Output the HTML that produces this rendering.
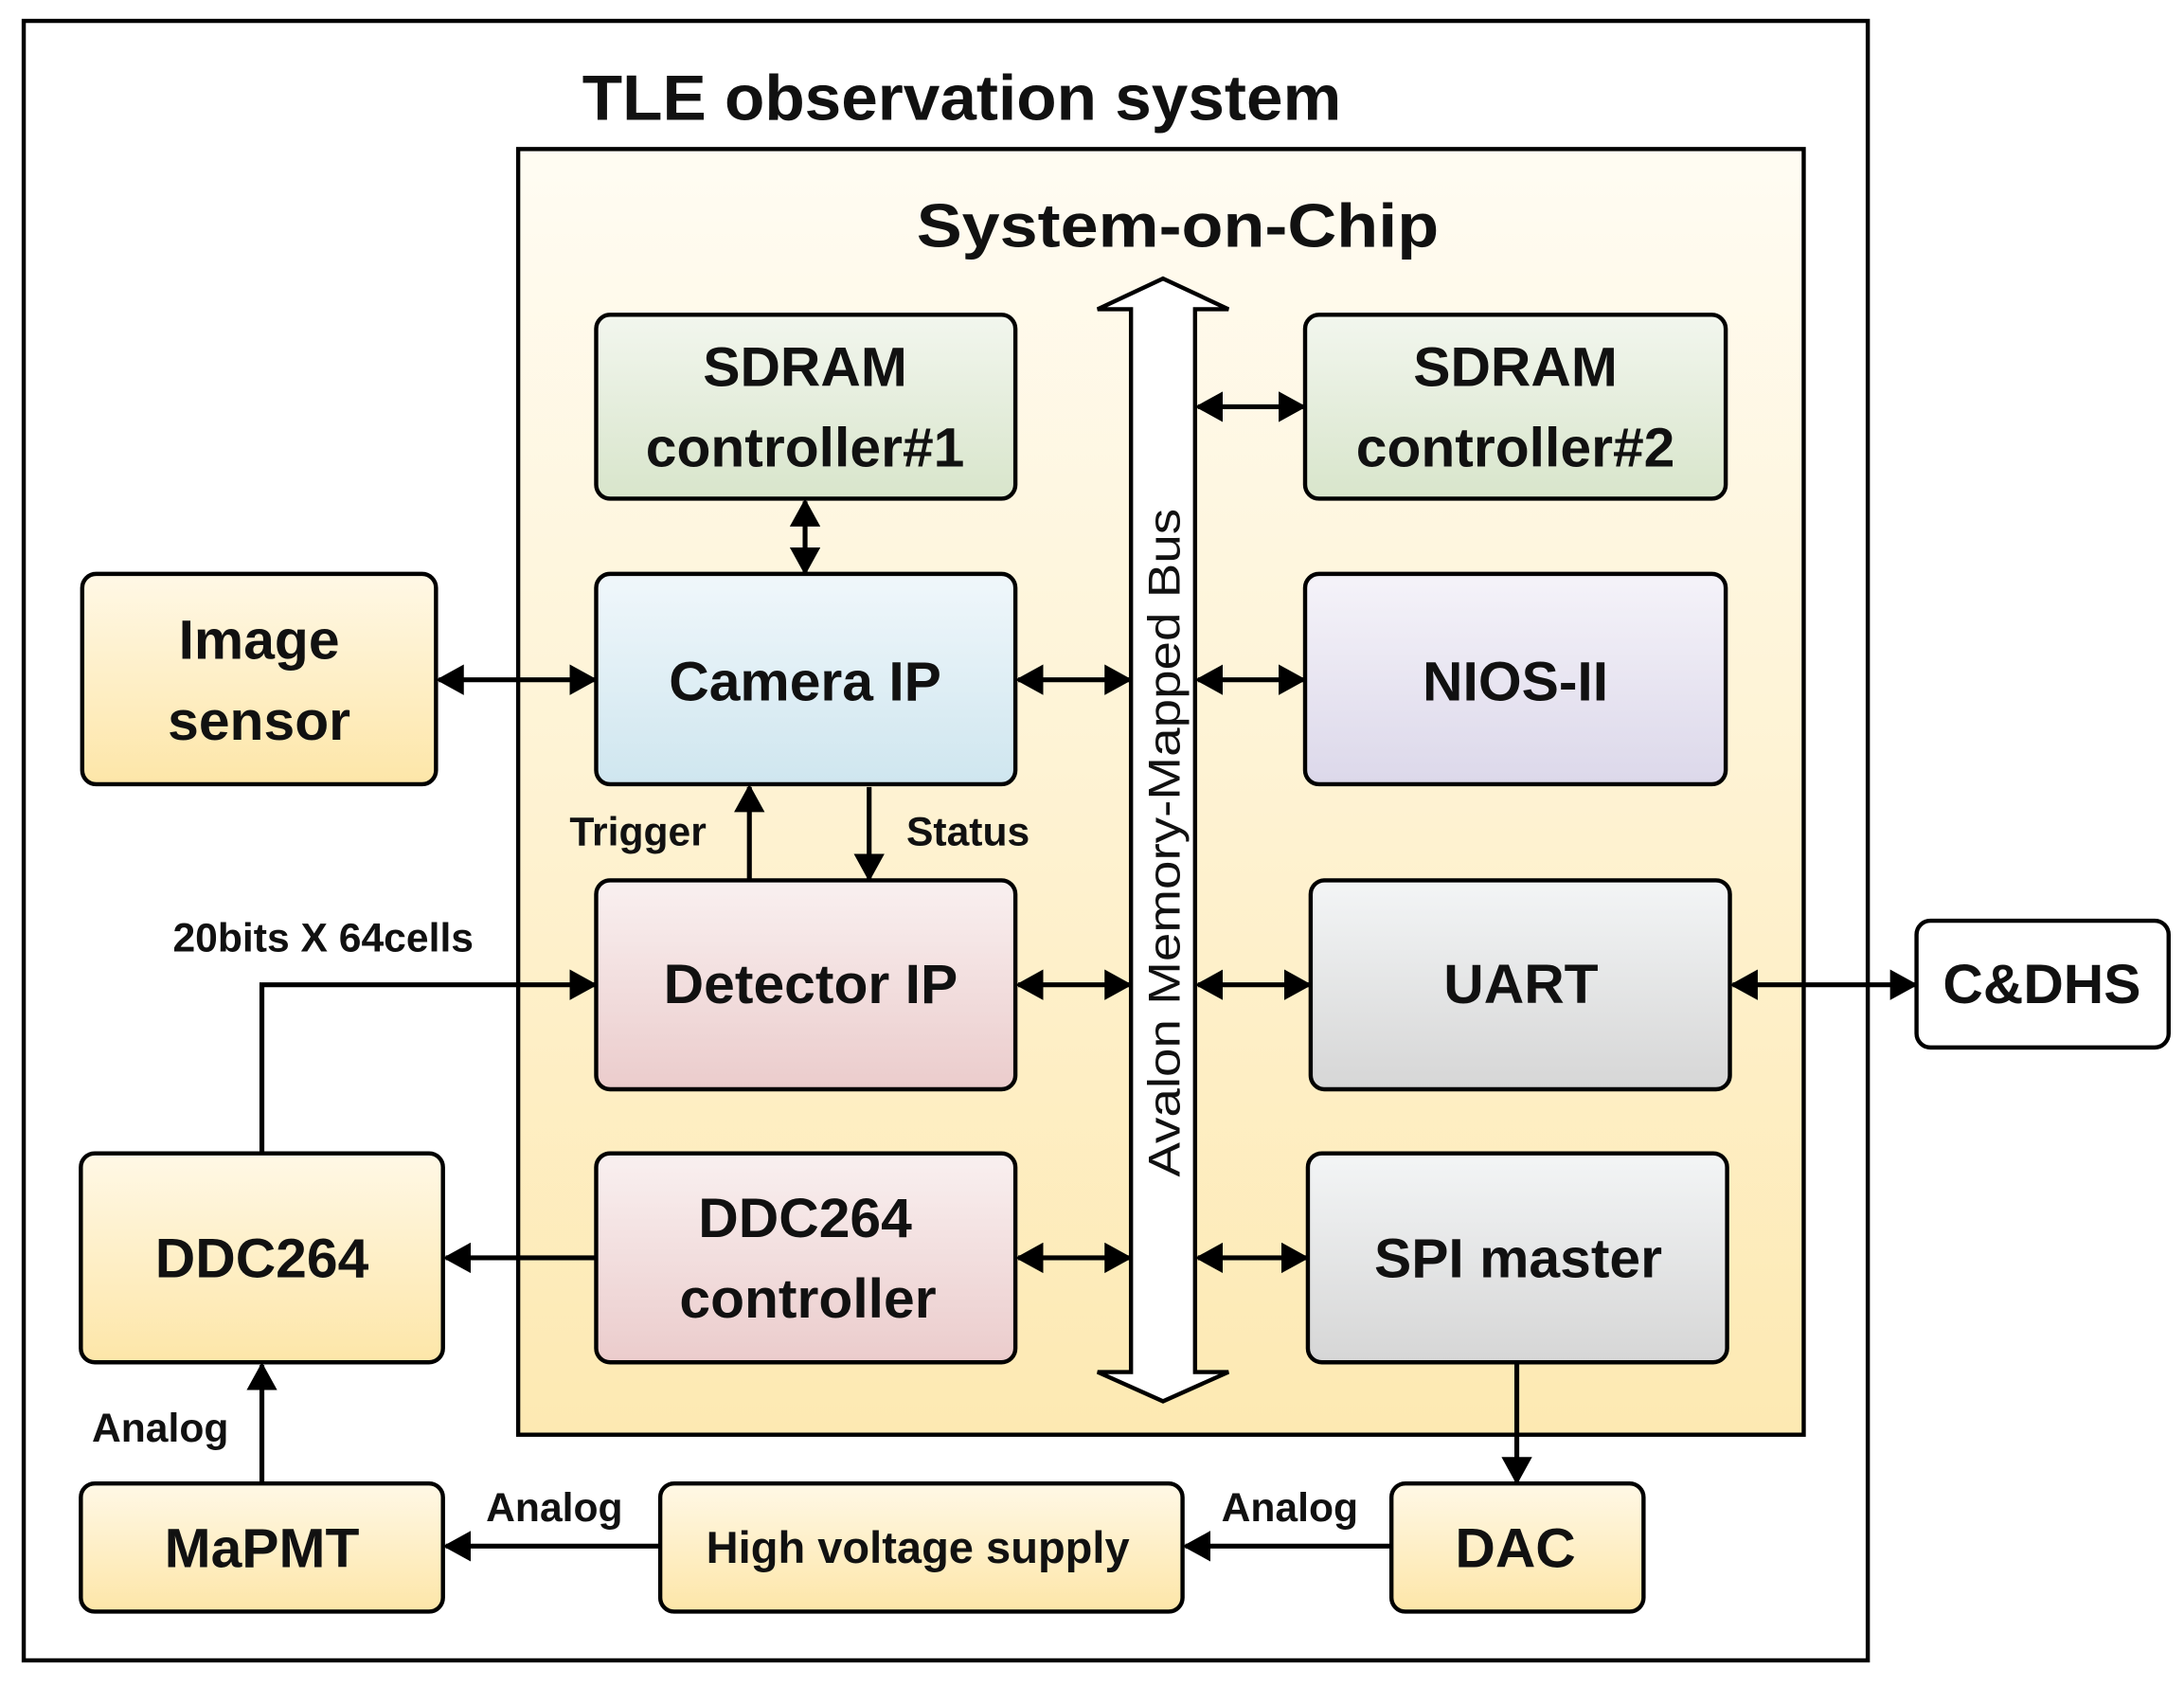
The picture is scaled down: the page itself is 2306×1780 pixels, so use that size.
<!DOCTYPE html>
<html><head><meta charset="utf-8"><style>
html,body{margin:0;padding:0;background:#fff}
svg{display:block}
text{font-family:"Liberation Sans",Arial,sans-serif;font-weight:bold;fill:#111}
</style></head><body>
<svg width="2306" height="1780" viewBox="0 0 1568 1210.4" xmlns="http://www.w3.org/2000/svg">
<defs>
<linearGradient id="soc" x1="0" y1="0" x2="0" y2="1"><stop offset="0" stop-color="#fffcf3"/><stop offset="1" stop-color="#fde9b2"/></linearGradient>
<linearGradient id="yel" x1="0" y1="0" x2="0" y2="1"><stop offset="0" stop-color="#fff8e6"/><stop offset="1" stop-color="#fde6a8"/></linearGradient>
<linearGradient id="grn" x1="0" y1="0" x2="0" y2="1"><stop offset="0" stop-color="#f2f6ee"/><stop offset="1" stop-color="#d8e5cb"/></linearGradient>
<linearGradient id="blu" x1="0" y1="0" x2="0" y2="1"><stop offset="0" stop-color="#f0f7fb"/><stop offset="1" stop-color="#cfe6ef"/></linearGradient>
<linearGradient id="lav" x1="0" y1="0" x2="0" y2="1"><stop offset="0" stop-color="#f5f3f9"/><stop offset="1" stop-color="#dcd8ea"/></linearGradient>
<linearGradient id="pnk" x1="0" y1="0" x2="0" y2="1"><stop offset="0" stop-color="#f9f0f0"/><stop offset="1" stop-color="#ebcccc"/></linearGradient>
<linearGradient id="gry" x1="0" y1="0" x2="0" y2="1"><stop offset="0" stop-color="#f3f5f6"/><stop offset="1" stop-color="#d6d6d6"/></linearGradient>
<marker id="a" markerUnits="userSpaceOnUse" markerWidth="20" markerHeight="22" refX="18" refY="11" orient="auto-start-reverse">
<path d="M0,0 L20,11 L0,22 Z" fill="#000"/></marker>
</defs>
<rect x="17" y="15" width="1324" height="1177" fill="#fff" stroke="#000" stroke-width="3"/>
<text x="418" y="86" font-size="46" textLength="545" lengthAdjust="spacingAndGlyphs">TLE observation system</text>
<rect x="372" y="107" width="923" height="923" fill="url(#soc)" stroke="#000" stroke-width="3"/>
<text x="658" y="177" font-size="44" textLength="375" lengthAdjust="spacingAndGlyphs">System-on-Chip</text>
<path d="M835,200 L882,222 L858,222 L858,985 L882,985 L835,1006 L788,985 L812,985 L812,222 L788,222 Z" fill="#fff" stroke="#000" stroke-width="3"/>
<text transform="translate(847,845) rotate(-90)" font-size="32" style="font-weight:normal" textLength="480" lengthAdjust="spacingAndGlyphs">Avalon Memory-Mapped Bus</text>
<g stroke="#000" stroke-width="3">
<rect x="428" y="226" width="301" height="132" rx="10" fill="url(#grn)"/>
<rect x="937" y="226" width="302" height="132" rx="10" fill="url(#grn)"/>
<rect x="59" y="412" width="254" height="151" rx="10" fill="url(#yel)"/>
<rect x="428" y="412" width="301" height="151" rx="10" fill="url(#blu)"/>
<rect x="937" y="412" width="302" height="151" rx="10" fill="url(#lav)"/>
<rect x="428" y="632" width="301" height="150" rx="10" fill="url(#pnk)"/>
<rect x="941" y="632" width="301" height="150" rx="10" fill="url(#gry)"/>
<rect x="1376" y="661" width="181" height="91" rx="10" fill="#fff"/>
<rect x="58" y="828" width="260" height="150" rx="10" fill="url(#yel)"/>
<rect x="428" y="828" width="301" height="150" rx="10" fill="url(#pnk)"/>
<rect x="939" y="828" width="301" height="150" rx="10" fill="url(#gry)"/>
<rect x="58" y="1065" width="260" height="92" rx="10" fill="url(#yel)"/>
<rect x="474" y="1065" width="375" height="92" rx="10" fill="url(#yel)"/>
<rect x="999" y="1065" width="181" height="92" rx="10" fill="url(#yel)"/>
</g>
<g font-size="40" text-anchor="middle">
<text x="578" y="277">SDRAM</text><text x="578" y="335">controller#1</text>
<text x="1088" y="277">SDRAM</text><text x="1088" y="335">controller#2</text>
<text x="186" y="473">Image</text><text x="186" y="531">sensor</text>
<text x="578" y="503">Camera IP</text>
<text x="1088" y="503">NIOS-II</text>
<text x="582" y="720">Detector IP</text>
<text x="1092" y="720">UART</text>
<text x="1466" y="720">C&amp;DHS</text>
<text x="188" y="917">DDC264</text>
<text x="578" y="888">DDC264</text><text x="580" y="946">controller</text>
<text x="1090" y="917">SPI master</text>
<text x="188" y="1125">MaPMT</text>
<text x="1088" y="1125">DAC</text>
</g>
<text x="659" y="1122" font-size="32" text-anchor="middle">High voltage supply</text>
<g font-size="29" text-anchor="middle">
<text x="458" y="607">Trigger</text>
<text x="695" y="607">Status</text>
<text x="232" y="683">20bits X 64cells</text>
<text x="115" y="1035">Analog</text>
<text x="398" y="1092">Analog</text>
<text x="926" y="1092">Analog</text>
</g>
<g stroke="#000" stroke-width="3.5" fill="none">
<line x1="578" y1="360" x2="578" y2="411" marker-start="url(#a)" marker-end="url(#a)"/>
<line x1="860" y1="292" x2="936" y2="292" marker-start="url(#a)" marker-end="url(#a)"/>
<line x1="315" y1="488" x2="427" y2="488" marker-start="url(#a)" marker-end="url(#a)"/>
<line x1="731" y1="488" x2="811" y2="488" marker-start="url(#a)" marker-end="url(#a)"/>
<line x1="860" y1="488" x2="936" y2="488" marker-start="url(#a)" marker-end="url(#a)"/>
<line x1="538" y1="632" x2="538" y2="565" marker-end="url(#a)"/>
<line x1="624" y1="565" x2="624" y2="631" marker-end="url(#a)"/>
<line x1="731" y1="707" x2="811" y2="707" marker-start="url(#a)" marker-end="url(#a)"/>
<line x1="860" y1="707" x2="940" y2="707" marker-start="url(#a)" marker-end="url(#a)"/>
<line x1="1244" y1="707" x2="1375" y2="707" marker-start="url(#a)" marker-end="url(#a)"/>
<polyline points="188,828 188,707 427,707" marker-end="url(#a)"/>
<line x1="428" y1="903" x2="320" y2="903" marker-end="url(#a)"/>
<line x1="731" y1="903" x2="811" y2="903" marker-start="url(#a)" marker-end="url(#a)"/>
<line x1="860" y1="903" x2="938" y2="903" marker-start="url(#a)" marker-end="url(#a)"/>
<line x1="1089" y1="978" x2="1089" y2="1064" marker-end="url(#a)"/>
<line x1="999" y1="1110" x2="851" y2="1110" marker-end="url(#a)"/>
<line x1="474" y1="1110" x2="320" y2="1110" marker-end="url(#a)"/>
<line x1="188" y1="1065" x2="188" y2="980" marker-end="url(#a)"/>
</g>
</svg>
</body></html>
